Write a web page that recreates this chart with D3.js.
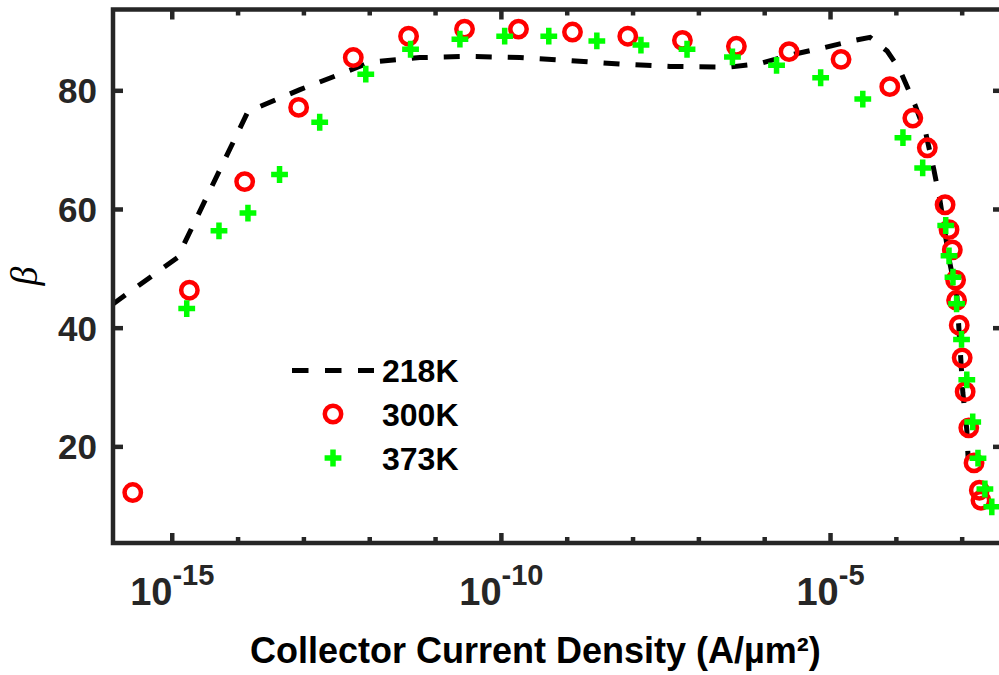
<!DOCTYPE html>
<html>
<head>
<meta charset="utf-8">
<script src="https://cdn.jsdelivr.net/npm/d3@7"></script>
<style>
  html, body { margin: 0; padding: 0; background: #ffffff; }
  svg { display: block; }
</style>
</head>
<body>
<svg id="chart" width="999" height="675"></svg>
<script>
// Current gain β versus collector current density at three temperatures.
// Current densities are stored as log10(J) with J in A/µm².

// 218 K — simulated curve (dashed)
const log10J218 = [-15.91, -14.92, -13.85, -13.06, -12.45, -12.00, -11.24, -10.48, -9.72, -8.96,
                   -8.20, -7.44, -6.53, -6.07, -5.62, -5.09, -4.63, -4.40, -4.14, -3.95,
                   -3.72, -3.55, -3.43, -3.34, -3.19, -3.08, -3.03, -2.99, -2.93, -2.91];
const beta218   = [44.0, 51.9, 76.5, 80.2, 82.8, 84.8, 85.6, 85.8, 85.6, 85.1,
                   84.5, 84.1, 84.0, 84.6, 86.0, 87.3, 88.5, 89.0, 86.7, 83.6,
                   77.7, 72.7, 66.7, 61.7, 51.1, 45.3, 36.4, 29.1, 22.9, 18.1];

// 300 K — circles
const log10J300 = [-15.60, -14.74, -13.90, -13.08, -12.25, -11.41, -10.56, -9.74, -8.92, -8.08,
                   -7.25, -6.43, -5.63, -4.84, -4.10, -3.75, -3.53, -3.26, -3.20, -3.15,
                   -3.10, -3.085, -3.045, -3.00, -2.955, -2.90, -2.82, -2.74, -2.715];
const beta300   = [12.3, 46.4, 64.7, 77.2, 85.6, 89.2, 90.4, 90.4, 89.9, 89.2,
                   88.5, 87.5, 86.6, 85.3, 80.7, 75.4, 70.4, 60.8, 56.6, 53.2,
                   48.1, 44.7, 40.5, 35.0, 29.3, 23.2, 17.3, 12.7, 11.0];

// 373 K — plus markers
const log10J373 = [-14.78, -14.29, -13.85, -13.37, -12.76, -12.06, -11.38, -10.63, -9.95, -9.28,
                   -8.55, -7.88, -7.18, -6.49, -5.82, -5.15, -4.51, -3.90, -3.60, -3.25,
                   -3.20, -3.14, -3.085, -3.01, -2.93, -2.84, -2.76, -2.655, -2.55];
const beta373   = [43.3, 56.4, 59.4, 65.9, 74.7, 82.8, 87.0, 88.7, 89.2, 89.2,
                   88.4, 87.7, 87.0, 85.7, 84.3, 82.2, 78.6, 72.1, 67.0, 57.3,
                   52.2, 48.6, 44.1, 38.1, 31.3, 24.2, 18.1, 12.9, 9.9];

// Axis ticks and labels
const xTickDecades   = [-15, -14, -13, -12, -11, -10, -9, -8, -7, -6, -5, -4, -3];
const xLabelDecades  = [-15, -10, -5];
const yTicks         = [20, 40, 60, 80];
const legendLabels   = ["218K", "300K", "373K"];
const xTitle         = "Collector Current Density (A/µm²)";
const yTitle         = "β";

// ---------------------------------------------------------------------------
const svg = d3.select("#chart");
const axisColor = "#262626";
const plot = { left: 113, right: 1003, top: 9.5, bottom: 543 };

const x = d3.scaleLog()
  .domain([Math.pow(10, -15.9), Math.pow(10, -2.38)])
  .range([plot.left, plot.right]);
const y = d3.scaleLinear()
  .domain([3.8, 93.7])
  .range([plot.bottom, plot.top]);

const toPoints = (lj, b) => lj.map((v, i) => ({ j: Math.pow(10, v), b: b[i] }));
const s218 = toPoints(log10J218, beta218);
const s300 = toPoints(log10J300, beta300);
const s373 = toPoints(log10J373, beta373);

svg.append("defs").append("clipPath").attr("id", "plotClip")
  .append("rect")
  .attr("x", plot.left).attr("y", plot.top)
  .attr("width", plot.right - plot.left).attr("height", plot.bottom - plot.top);

// dashed 218 K curve
const line = d3.line().x(d => x(d.j)).y(d => y(d.b));
svg.append("path")
  .datum(s218)
  .attr("clip-path", "url(#plotClip)")
  .attr("d", line)
  .attr("fill", "none")
  .attr("stroke", "#000000")
  .attr("stroke-width", 5)
  .attr("stroke-dasharray", "16,16");

// circle markers
const circleR = 8.2;
svg.append("g").selectAll("circle")
  .data(s300).join("circle")
  .attr("cx", d => x(d.j)).attr("cy", d => y(d.b))
  .attr("r", circleR)
  .attr("fill", "none")
  .attr("stroke", "#ff0000")
  .attr("stroke-width", 4.5);

// plus markers
const plusHalf = 8.4;
const plusPath = (cx, cy) =>
  `M${cx - plusHalf},${cy}H${cx + plusHalf}M${cx},${cy - plusHalf}V${cy + plusHalf}`;
svg.append("g").selectAll("path")
  .data(s373).join("path")
  .attr("d", d => plusPath(x(d.j), y(d.b)))
  .attr("stroke", "#00ff00")
  .attr("stroke-width", 5.5)
  .attr("fill", "none");

// axes box
const axes = svg.append("g").attr("stroke", axisColor).attr("fill", "none");
axes.append("rect")
  .attr("x", plot.left).attr("y", plot.top)
  .attr("width", plot.right - plot.left).attr("height", plot.bottom - plot.top)
  .attr("stroke-width", 4.5);

// x ticks (inside, bottom and top)
xTickDecades.forEach(dec => {
  const px = x(Math.pow(10, dec));
  const len = xLabelDecades.includes(dec) ? 10 : 6;
  axes.append("line").attr("x1", px).attr("x2", px)
    .attr("y1", plot.bottom).attr("y2", plot.bottom - len).attr("stroke-width", 4.5);
  axes.append("line").attr("x1", px).attr("x2", px)
    .attr("y1", plot.top).attr("y2", plot.top + len).attr("stroke-width", 4.5);
});

// y ticks (inside, left and right)
yTicks.forEach(v => {
  const py = y(v);
  axes.append("line").attr("x1", plot.left).attr("x2", plot.left + 10)
    .attr("y1", py).attr("y2", py).attr("stroke-width", 4.5);
  axes.append("line").attr("x1", plot.right).attr("x2", plot.right - 10)
    .attr("y1", py).attr("y2", py).attr("stroke-width", 4.5);
});

const font = "'Liberation Sans', Arial, Helvetica, sans-serif";

// y tick labels
svg.append("g").selectAll("text")
  .data(yTicks).join("text")
  .attr("x", 97).attr("y", d => y(d) + 12.5)
  .attr("text-anchor", "end")
  .attr("font-family", font).attr("font-weight", "bold").attr("font-size", 35)
  .attr("fill", axisColor)
  .text(d => d);

// x tick labels: 10 with superscript exponent
xLabelDecades.forEach(dec => {
  const t = svg.append("text")
    .attr("x", x(Math.pow(10, dec))).attr("y", 605)
    .attr("text-anchor", "middle")
    .attr("font-family", font).attr("font-weight", "bold").attr("font-size", 38)
    .attr("fill", axisColor);
  t.append("tspan").text("10");
  t.append("tspan").attr("dy", -20).attr("font-size", 29).text(String(dec));
});

// axis titles
svg.append("text")
  .attr("x", 250).attr("y", 663)
  .attr("font-family", font).attr("font-weight", "bold").attr("font-size", 36)
  .attr("fill", "#000000")
  .text(xTitle);

svg.append("text")
  .attr("transform", "translate(37,276) rotate(-90)")
  .attr("text-anchor", "middle")
  .attr("font-family", "'Liberation Serif', 'Times New Roman', serif")
  .attr("font-style", "italic").attr("font-size", 38)
  .attr("fill", "#000000")
  .text(yTitle);

// legend
const legend = svg.append("g");
const legRows = [370.5, 414, 458];
const legSampleX = [292, 374];
legend.append("line")
  .attr("x1", legSampleX[0]).attr("x2", legSampleX[1])
  .attr("y1", legRows[0]).attr("y2", legRows[0])
  .attr("stroke", "#000000").attr("stroke-width", 5).attr("stroke-dasharray", "16.5,16.5");
legend.append("circle")
  .attr("cx", 333).attr("cy", legRows[1]).attr("r", circleR)
  .attr("fill", "none").attr("stroke", "#ff0000").attr("stroke-width", 4.5);
legend.append("path")
  .attr("d", plusPath(333, legRows[2]))
  .attr("stroke", "#00ff00").attr("stroke-width", 5.5);
legend.selectAll("text")
  .data(legendLabels).join("text")
  .attr("x", 382).attr("y", (d, i) => legRows[i] + 11.5)
  .attr("font-family", font).attr("font-weight", "bold").attr("font-size", 32)
  .attr("fill", "#000000")
  .text(d => d);
</script>
</body>
</html>
